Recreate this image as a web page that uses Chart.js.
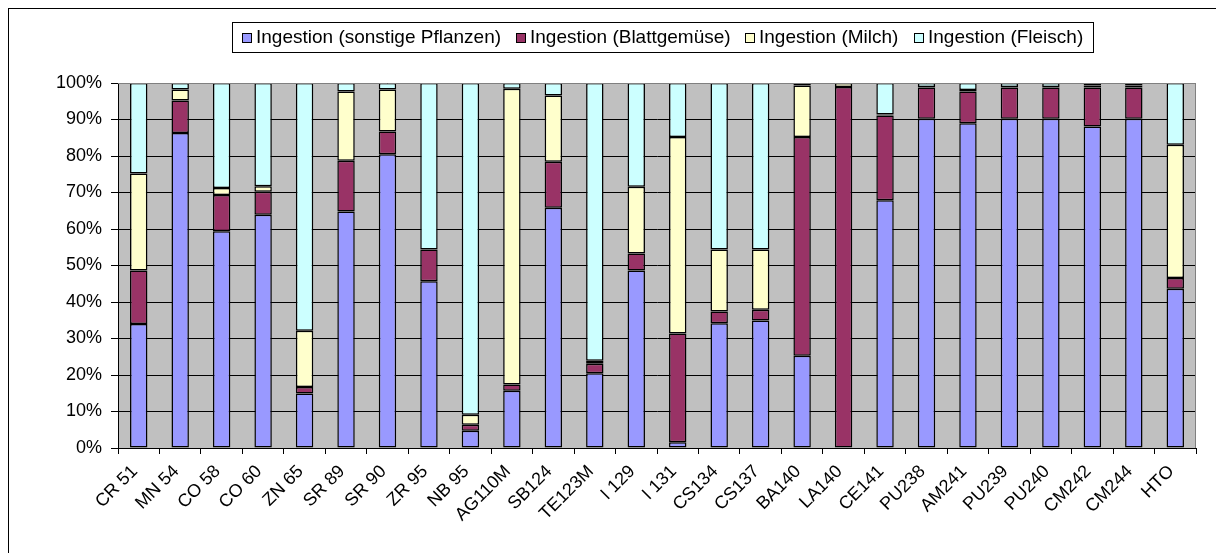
<!DOCTYPE html>
<html>
<head>
<meta charset="utf-8">
<script src="https://cdn.jsdelivr.net/npm/chart.js@4.4.0/dist/chart.umd.min.js"></script>
<style>
  html, body { margin: 0; padding: 0; background: #ffffff; }
  #wrap { width: 1216px; height: 553px; }
</style>
</head>
<body>
<div id="wrap"><canvas id="c" width="1216" height="553"></canvas></div>
<script>
// Nuclides on the category axis
const nuclides = ['CR 51','MN 54','CO 58','CO 60','ZN 65','SR 89','SR 90','ZR 95','NB 95','AG110M','SB124','TE123M','I 129','I 131','CS134','CS137','BA140','LA140','CE141','PU238','AM241','PU239','PU240','CM242','CM244','HTO'];

// Share of each ingestion pathway in percent (each column sums to 100)
const sonstigePflanzen = [34.0,86.3,59.4,63.9,14.9,64.8,80.5,45.7,4.7,15.7,65.8,20.5,48.6,1.6,34.2,34.9,25.3,0,67.9,90.2,89.0,90.2,90.2,88.1,90.2,43.6];
const blattgemuese     = [14.6,8.9,9.9,6.3,1.8,13.9,6.2,8.7,1.7,1.7,12.6,2.6,4.7,29.8,3.2,3.0,59.9,98.9,23.2,8.6,8.7,8.6,8.6,10.7,8.6,3.0];
const milch            = [26.6,3.0,1.9,1.5,15.4,19.0,11.5,0,2.7,81.0,18.2,0.8,18.3,53.8,17.0,16.5,14.1,1.1,0.3,0.1,0.4,0.1,0.1,0.5,0.5,36.5];
const fleisch          = [24.8,1.8,28.8,28.3,67.9,2.3,1.8,45.6,90.9,1.6,3.4,76.1,28.4,14.8,45.6,45.6,0.7,0,8.6,1.1,1.9,1.1,1.1,0.7,0.7,16.9];

// Series names and fills
const seriesNames  = ['Ingestion (sonstige Pflanzen)','Ingestion (Blattgemüse)','Ingestion (Milch)','Ingestion (Fleisch)'];
const seriesColors = ['#9999FF','#993366','#FFFFCC','#CCFFFF'];

// Y-axis tick values
const percentTicks = [0,10,20,30,40,50,60,70,80,90,100];

const FONT = 'Liberation Sans, Arial, sans-serif';

// Page frame, grey plot background and plot border
const backdrop = {
  id: 'backdrop',
  beforeDraw(chart) {
    const ctx = chart.ctx, a = chart.chartArea;
    ctx.save();
    ctx.fillStyle = '#ffffff';
    ctx.fillRect(0, 0, chart.width, chart.height);
    ctx.strokeStyle = '#000000';
    ctx.lineWidth = 1;
    ctx.strokeRect(8.5, 8.5, chart.width + 20, chart.height + 20);
    ctx.fillStyle = '#C0C0C0';
    ctx.fillRect(a.left, a.top, a.right - a.left, a.bottom - a.top);
    ctx.restore();
  },
  afterDatasetsDraw(chart) {
    const ctx = chart.ctx, a = chart.chartArea;
    ctx.save();
    ctx.strokeStyle = '#808080';
    ctx.lineWidth = 1;
    ctx.beginPath();
    ctx.moveTo(a.left, Math.round(a.top) + 0.5);
    ctx.lineTo(Math.round(a.right) - 0.5, Math.round(a.top) + 0.5);
    ctx.lineTo(Math.round(a.right) - 0.5, a.bottom);
    ctx.stroke();
    ctx.restore();
  }
};

// Boxed legend row above the plot; items spread across the frame
const boxedLegend = {
  id: 'boxedLegend',
  afterDraw(chart) {
    const ctx = chart.ctx;
    const frame = { left: 232, right: 1093, top: 22, bottom: 52 };
    const box = 9, gapText = 5, inset = 10;
    ctx.save();
    ctx.font = '19px ' + FONT;
    ctx.textBaseline = 'middle';
    const items = chart.data.datasets.map(ds => ({ text: ds.label, color: ds.backgroundColor, w: ctx.measureText(ds.label).width }));
    const used = items.reduce((s, it) => s + box + gapText + it.w, 0);
    const gapItem = (frame.right - frame.left - 2 * inset - used) / (items.length - 1);
    let x = frame.left + inset;
    const cy = (frame.top + frame.bottom) / 2;
    ctx.strokeStyle = '#000000';
    ctx.lineWidth = 1;
    ctx.strokeRect(frame.left + 0.5, frame.top + 0.5, frame.right - frame.left, frame.bottom - frame.top);
    items.forEach(it => {
      const bx = Math.round(x), by = Math.round(cy - box / 2);
      ctx.fillStyle = it.color;
      ctx.fillRect(bx + 0.5, by + 0.5, box, box);
      ctx.strokeRect(bx + 0.5, by + 0.5, box, box);
      ctx.fillStyle = '#000000';
      ctx.fillText(it.text, bx + box + gapText, cy + 1);
      x += box + gapText + it.w + gapItem;
    });
    ctx.restore();
  }
};

const seriesData = [sonstigePflanzen, blattgemuese, milch, fleisch];

new Chart(document.getElementById('c'), {
  type: 'bar',
  data: {
    labels: nuclides,
    datasets: seriesData.map((d, i) => ({
      label: seriesNames[i],
      data: d,
      backgroundColor: seriesColors[i],
      borderColor: '#000000',
      borderWidth: 1.5,
      borderSkipped: false,
      inflateAmount: 0,
      categoryPercentage: 1,
      barPercentage: 0.42
    }))
  },
  options: {
    responsive: false,
    animation: false,
    devicePixelRatio: 1,
    layout: { padding: { left: 0, right: 20, top: 83, bottom: 0 } },
    plugins: {
      legend: { display: false },
      tooltip: { enabled: false }
    },
    scales: {
      x: {
        stacked: true,
        offset: true,
        afterFit(scale) { scale.height = 105; },
        grid: { display: true, drawOnChartArea: false, drawTicks: true, tickLength: 6, offset: true, color: '#000000' },
        border: { display: true, color: '#000000', width: 1 },
        ticks: {
          autoSkip: false, minRotation: 45, maxRotation: 45, padding: 7, labelOffset: -4,
          color: '#000000', font: { family: FONT, size: 18 }
        }
      },
      y: {
        stacked: true,
        min: 0, max: 100,
        afterFit(scale) { scale.width = 118; },
        afterBuildTicks(scale) { scale.ticks = percentTicks.map(v => ({ value: v })); },
        grid: {
          color: ctx => (ctx.tick && ctx.tick.value === 100 ? '#808080' : '#000000'),
          tickColor: '#000000',
          tickLength: 7,
          lineWidth: 1
        },
        border: { display: true, color: '#000000', width: 1 },
        ticks: {
          padding: 9,
          color: '#000000',
          font: { family: FONT, size: 18 },
          callback: v => v + '%'
        }
      }
    }
  },
  plugins: [backdrop, boxedLegend]
});
</script>
</body>
</html>
